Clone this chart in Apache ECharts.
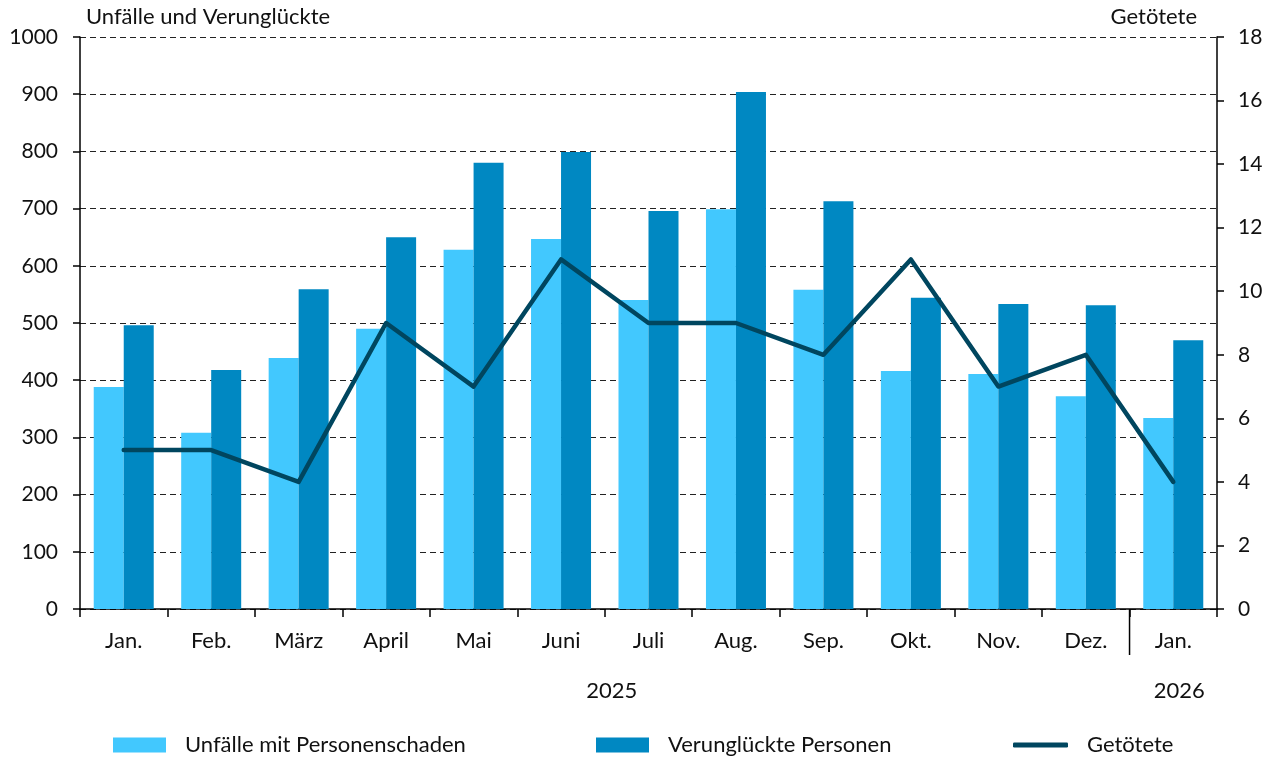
<!DOCTYPE html>
<html>
<head>
<meta charset="utf-8">
<script src="https://cdn.jsdelivr.net/npm/echarts@6/dist/echarts.min.js"></script>
<style>html,body{margin:0;padding:0;background:#fff;}#c{width:1279px;height:758px;}</style>
</head>
<body>
<div id="c"></div>
<script>
const categories = ['Jan.','Feb.','März','April','Mai','Juni','Juli','Aug.','Sep.','Okt.','Nov.','Dez.','Jan.'];
const unfaelle = [388,308,439,490,628,647,540,699,558,416,411,372,334];
const verunglueckte = [496,418,559,650,780,799,696,904,713,544,533,531,470];
const getoetete = [5,5,4,9,7,11,9,9,8,11,7,8,4];
const yearLabels = ['2025','2026'];
const seriesNames = ['Unfälle mit Personenschaden','Verunglückte Personen','Getötete'];
const leftTicks = [0,1000,100];
const rightTicks = [0,18,2];

const FONT = 'Lato';
const TXT = '#111';
const FS = 22;
const chart = echarts.init(document.getElementById('c'));
const legendText = {fontFamily: FONT, fontSize: FS, color: TXT, padding: [0,0,0,14]};
chart.setOption({
  animation: false,
  textStyle: {fontFamily: FONT},
  grid: {left: 80, right: 62, top: 37, bottom: 149},
  legend: [
    {data: [{name: seriesNames[0], icon: 'rect'}], left: 113, top: 734, padding: 0, itemWidth: 53, itemHeight: 15, textStyle: legendText},
    {data: [{name: seriesNames[1], icon: 'rect'}], left: 596, top: 734, padding: 0, itemWidth: 53, itemHeight: 15, textStyle: legendText},
    {data: [{name: seriesNames[2], icon: 'roundRect'}], left: 1013, top: 734, padding: 0, itemWidth: 55, itemHeight: 5,
     itemStyle: {color: '#00465f'}, textStyle: legendText}
  ],
  xAxis: {
    type: 'category', data: categories,
    axisLine: {lineStyle: {color: '#000', width: 1.5}},
    axisTick: {show: true, length: 8, lineStyle: {color: '#000', width: 1.5}},
    axisLabel: {fontFamily: FONT, fontSize: FS, color: TXT, margin: 21}
  },
  yAxis: [
    {
      type: 'value', min: leftTicks[0], max: leftTicks[1], interval: leftTicks[2],
      name: 'Unfälle und Verunglückte', nameLocation: 'end', nameGap: 9,
      nameTextStyle: {fontFamily: FONT, fontSize: FS, color: TXT, align: 'left', padding: [0,0,0,6]},
      axisLine: {show: true, lineStyle: {color: '#000', width: 1.5}},
      axisTick: {show: true, length: 7, lineStyle: {color: '#000', width: 1.5}},
      axisLabel: {fontFamily: FONT, fontSize: 21, color: TXT, margin: 22, formatter: v => String(v)},
      splitLine: {show: true, lineStyle: {color: '#222', type: [6,4], width: 1}}
    },
    {
      type: 'value', min: rightTicks[0], max: rightTicks[1], interval: rightTicks[2], position: 'right',
      name: 'Getötete', nameLocation: 'end', nameGap: 9,
      nameTextStyle: {fontFamily: FONT, fontSize: FS, color: TXT, align: 'right', padding: [0,20,0,0]},
      axisLine: {show: true, lineStyle: {color: '#000', width: 1.5}},
      axisTick: {show: true, length: 7, lineStyle: {color: '#000', width: 1.5}},
      axisLabel: {fontFamily: FONT, fontSize: 21, color: TXT, margin: 21, formatter: v => String(v)},
      splitLine: {show: false}
    }
  ],
  series: [
    {name: seriesNames[0], type: 'bar', data: unfaelle, barWidth: 30, barGap: '0%', itemStyle: {color: '#42c8fe'}},
    {name: seriesNames[1], type: 'bar', data: verunglueckte, barWidth: 30, barGap: '0%', itemStyle: {color: '#0088c2'}},
    {name: seriesNames[2], type: 'line', yAxisIndex: 1, data: getoetete, symbol: 'none',
     lineStyle: {color: '#00465f', width: 4.5, cap: 'round', join: 'round'}, itemStyle: {color: '#00465f'}, z: 5}
  ]
});
const px = i => chart.convertToPixel({xAxisIndex: 0}, i);
const y0 = chart.convertToPixel({yAxisIndex: 0}, 0);
const sepX = (px(11) + px(12)) / 2;
chart.setOption({
  graphic: [
    {type: 'line', shape: {x1: sepX, y1: y0, x2: sepX, y2: y0 + 46}, style: {stroke: '#000', lineWidth: 1.5}},
    {type: 'text', x: (px(0) + px(11)) / 2 + 7, y: y0 + 82, style: {text: yearLabels[0], font: FS + 'px ' + FONT, fill: TXT, textAlign: 'center', textVerticalAlign: 'middle'}},
    {type: 'text', x: px(12) + 6, y: y0 + 82, style: {text: yearLabels[1], font: FS + 'px ' + FONT, fill: TXT, textAlign: 'center', textVerticalAlign: 'middle'}}
  ]
});
</script>
</body>
</html>
